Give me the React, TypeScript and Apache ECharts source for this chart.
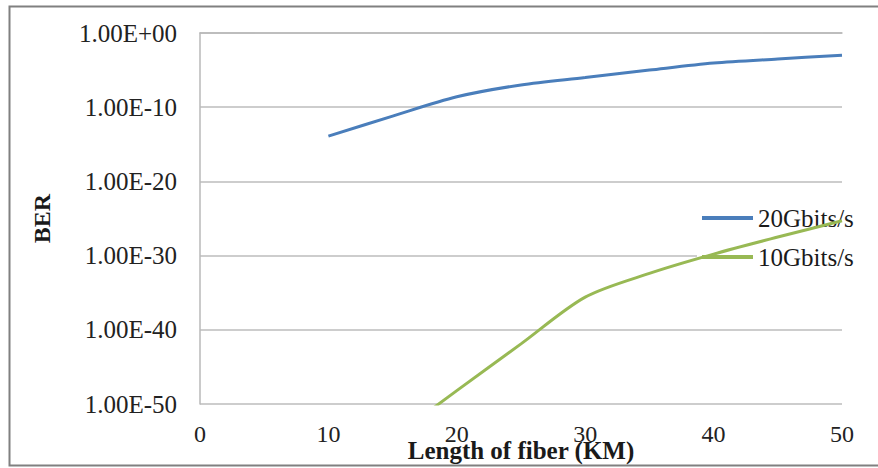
import React, { useEffect, useRef } from "react";
import * as echarts from "echarts";

// BER values are given as base-10 exponents (BER = 10^value)
const lengthKm20 = [10, 15, 20, 25, 30, 35, 40, 45, 50];
const berExp20 = [-13.9, -11.2, -8.6, -7.0, -6.0, -5.0, -4.05, -3.5, -3.0];
const lengthKm10 = [15, 20, 25, 30, 35, 40, 45, 50];
const berExp10 = [-54.6, -48.2, -41.9, -35.6, -32.4, -29.8, -27.5, -25.3];
const seriesNames = ["20Gbits/s", "10Gbits/s"];
const xTicks = { min: 0, max: 50, step: 10 };
const yExpRange = { min: -50, max: 0, step: 10 };

const FONT = "'Liberation Serif', 'Times New Roman', serif";

function fmtExp(e: number): string {
  const r = Math.round(e);
  const abs = Math.abs(r).toString().padStart(2, "0");
  return "1.00E" + (r >= 0 ? "+" : "-") + abs;
}

export default function App() {
  const ref = useRef<HTMLDivElement>(null);
  useEffect(() => {
    if (!ref.current) return;
    const chart = echarts.init(ref.current, undefined, { renderer: "svg" });
    const d20 = lengthKm20.map((x, i) => [x, berExp20[i]]);
    const d10 = lengthKm10.map((x, i) => [x, berExp10[i]]);
    chart.setOption({
      animation: false,
      backgroundColor: "#ffffff",
      grid: { left: 200, top: 33, right: 36, bottom: 64, outerBoundsMode: "none", containLabel: false },
      graphic: [
        {
          type: "rect",
          shape: { x: 9.5, y: 6.5, width: 900, height: 459 },
          style: { fill: "none", stroke: "#808080", lineWidth: 2 },
          silent: true,
        },
      ],
      legend: {
        data: seriesNames,
        orient: "vertical",
        left: 697,
        top: 201,
        padding: [4, 5],
        itemGap: 13,
        itemWidth: 51,
        itemHeight: 4,
        icon: "rect",
        backgroundColor: "#ffffff",
        z: 1,
        textStyle: { fontFamily: FONT, fontSize: 25, lineHeight: 26, color: "#1a1a1a" },
      },
      xAxis: {
        type: "value",
        min: xTicks.min,
        max: xTicks.max,
        interval: xTicks.step,
        name: "Length of fiber (KM)",
        nameLocation: "middle",
        nameGap: 34,
        nameMoveOverlap: false,
        nameTextStyle: { fontFamily: FONT, fontSize: 25, fontWeight: "bold", color: "#1a1a1a" },
        axisLine: { show: true, lineStyle: { color: "#b8b8b8", width: 1.5 } },
        axisTick: { show: false },
        splitLine: { show: false },
        axisLabel: { fontFamily: FONT, fontSize: 24, color: "#222", margin: 18 },
      },
      yAxis: {
        type: "value",
        min: yExpRange.min,
        max: yExpRange.max,
        interval: yExpRange.step,
        name: "BER",
        nameLocation: "middle",
        nameRotate: 90,
        nameGap: 146,
        nameMoveOverlap: false,
        nameTextStyle: { fontFamily: FONT, fontSize: 24, fontWeight: "bold", color: "#1a1a1a" },
        axisLine: { show: true, lineStyle: { color: "#b8b8b8", width: 1.5 } },
        axisTick: { show: false },
        splitLine: { show: true, lineStyle: { color: "#bdbdbd", width: 1.5 } },
        axisLabel: {
          fontFamily: FONT,
          fontSize: 25,
          color: "#222",
          margin: 23,
          formatter: (v: number) => fmtExp(v),
        },
      },
      series: [
        {
          name: seriesNames[0],
          type: "line",
          data: d20,
          smooth: 0.3,
          symbol: "none",
          clip: true,
          z: 3,
          color: "#4a7ebb",
          lineStyle: { color: "#4a7ebb", width: 3 },
        },
        {
          name: seriesNames[1],
          type: "line",
          data: d10,
          smooth: 0.3,
          symbol: "none",
          clip: true,
          z: 3,
          color: "#98b954",
          lineStyle: { color: "#98b954", width: 3 },
        },
      ],
    });
    return () => chart.dispose();
  }, []);
  return (
    <div
      ref={ref}
      style={{ position: "fixed", left: 0, top: 0, width: 878, height: 468 }}
    />
  );
}
